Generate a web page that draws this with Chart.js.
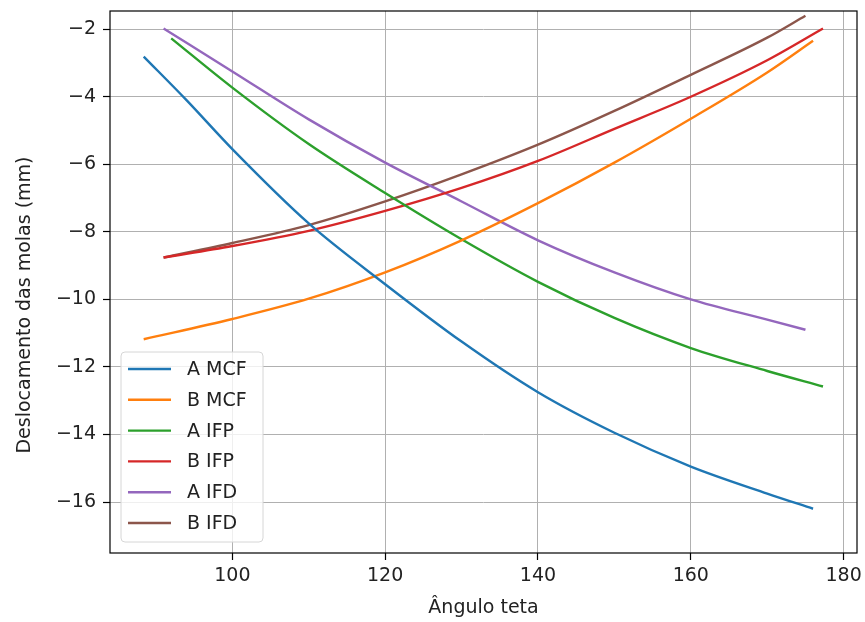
<!DOCTYPE html>
<html>
<head>
<meta charset="utf-8">
<script src="https://cdn.jsdelivr.net/npm/chart.js@4"></script>
<style>
  body { margin: 0; background: #fff; }
  #wrap { width: 865px; height: 622px; position: relative; }
</style>
</head>
<body>
<div id="wrap"><canvas id="chart"></canvas></div>
<script>
// values (angle in degrees, displacement in mm)
const xAMCF = [88.4, 94, 100, 110, 120, 130, 140, 150, 160, 170, 176];
const yAMCF = [-2.81, -4.1, -5.55, -7.75, -9.55, -11.25, -12.75, -13.95, -14.95, -15.75, -16.2];

const xBMCF = [88.4, 100, 110, 120, 130, 140, 150, 160, 170, 176];
const yBMCF = [-11.18, -10.58, -9.98, -9.2, -8.25, -7.15, -5.95, -4.65, -3.28, -2.34];

const xAIFP = [92, 100, 110, 120, 130, 140, 150, 160, 170, 177.3];
const yAIFP = [-2.27, -3.73, -5.4, -6.85, -8.22, -9.48, -10.55, -11.44, -12.12, -12.58];

const xBIFP = [91, 100, 110, 120, 130, 140, 150, 160, 170, 177.3];
const yBIFP = [-8.76, -8.42, -7.97, -7.38, -6.7, -5.9, -4.95, -4.0, -2.92, -1.98];

const xAIFD = [91, 100, 110, 120, 130, 140, 150, 160, 170, 175];
const yAIFD = [-1.98, -3.25, -4.67, -5.95, -7.1, -8.25, -9.2, -10.0, -10.6, -10.9];

const xBIFD = [91, 100, 110, 120, 130, 140, 150, 160, 170, 175];
const yBIFD = [-8.76, -8.33, -7.8, -7.1, -6.3, -5.42, -4.42, -3.35, -2.25, -1.6];

const seriesNames = ["A MCF", "B MCF", "A IFP", "B IFP", "A IFD", "B IFD"];
const seriesColors = ["#1f77b4", "#ff7f0e", "#2ca02c", "#d62728", "#9467bd", "#8c564b"];
const xTicks = [100, 120, 140, 160, 180];
const yTicks = [-2, -4, -6, -8, -10, -12, -14, -16];
const yTitle = "Deslocamento das molas (mm)";

const FONT = "DejaVu Sans";
const FSIZE = 19;
const TEXT = "#222";

function pts(xs, ys) {
    return xs.map((x, i) => ({ x: x, y: ys[i] }));
}

function fmt(v) {
    return v < 0 ? "\u2212" + Math.abs(v) : String(v);
}

const allX = [xAMCF, xBMCF, xAIFP, xBIFP, xAIFD, xBIFD];
const allY = [yAMCF, yBMCF, yAIFP, yBIFP, yAIFD, yBIFD];

const datasets = seriesNames.map((name, i) => ({
    label: name,
    data: pts(allX[i], allY[i]),
    borderColor: seriesColors[i],
    backgroundColor: seriesColors[i],
    borderWidth: 2.4,
    pointRadius: 0,
    cubicInterpolationMode: "monotone",
    fill: false
}));

// frame, y title and a matplotlib-like legend in the lower left
const framePlugin = {
    id: "frame",
    afterDraw(chart) {
        const ctx = chart.ctx;
        const a = chart.chartArea;
        ctx.save();
        ctx.strokeStyle = "#000";
        ctx.lineWidth = 1.2;
        ctx.strokeRect(a.left, a.top, a.right - a.left, a.bottom - a.top);

        ctx.font = FSIZE + "px '" + FONT + "'";
        ctx.fillStyle = TEXT;
        ctx.save();
        ctx.translate(25, 305);
        ctx.rotate(-Math.PI / 2);
        ctx.textAlign = "center";
        ctx.textBaseline = "middle";
        ctx.fillText(yTitle, 0, 0);
        ctx.restore();

        const bx = a.left + 11, bw = 142, bh = 190;
        const by = a.bottom - 11 - bh;
        ctx.fillStyle = "rgba(255,255,255,0.8)";
        ctx.strokeStyle = "#d6d6d6";
        ctx.lineWidth = 1;
        ctx.beginPath();
        ctx.roundRect(bx, by, bw, bh, 4);
        ctx.fill();
        ctx.stroke();

        ctx.textBaseline = "middle";
        ctx.textAlign = "left";
        ctx.fillStyle = TEXT;
        chart.data.datasets.forEach((ds, i) => {
            const cy = by + 17 + i * 30.8;
            ctx.strokeStyle = ds.borderColor;
            ctx.lineWidth = 2.4;
            ctx.beginPath();
            ctx.moveTo(bx + 7, cy);
            ctx.lineTo(bx + 50, cy);
            ctx.stroke();
            ctx.fillText(ds.label, bx + 66, cy + 1);
        });
        ctx.restore();
    }
};

new Chart(document.getElementById("chart"), {
    type: "line",
    data: { datasets },
    options: {
        responsive: true,
        maintainAspectRatio: false,
        animation: false,
        layout: { padding: { left: 0, top: 11, right: 8, bottom: 0 } },
        plugins: {
            legend: { display: false },
            tooltip: { enabled: false }
        },
        scales: {
            x: {
                type: "linear",
                min: 83.99,
                max: 181.75,
                afterBuildTicks: s => { s.ticks = xTicks.map(v => ({ value: v })); },
                afterFit: s => { s.height = 69; s.paddingLeft = 0; s.paddingRight = 0; },
                ticks: {
                    callback: v => fmt(v),
                    font: { family: FONT, size: FSIZE },
                    color: TEXT,
                    padding: 5,
                    maxRotation: 0
                },
                grid: { color: "#b0b0b0", lineWidth: 1, tickLength: 7, tickColor: "#000", tickWidth: 1.2 },
                border: { display: false },
                title: {
                    display: true,
                    text: "Ângulo teta",
                    font: { family: FONT, size: FSIZE },
                    color: TEXT,
                    padding: { top: 0, bottom: 3 }
                }
            },
            y: {
                type: "linear",
                min: -17.51,
                max: -1.46,
                afterBuildTicks: s => { s.ticks = yTicks.map(v => ({ value: v })); },
                afterFit: s => { s.width = 110; s.paddingTop = 0; s.paddingBottom = 0; },
                ticks: {
                    callback: v => fmt(v),
                    font: { family: FONT, size: FSIZE },
                    color: TEXT,
                    padding: 7
                },
                grid: { color: "#b0b0b0", lineWidth: 1, tickLength: 7, tickColor: "#000", tickWidth: 1.2 },
                border: { display: false },
                title: { display: false }
            }
        }
    },
    plugins: [framePlugin]
});
</script>
</body>
</html>
